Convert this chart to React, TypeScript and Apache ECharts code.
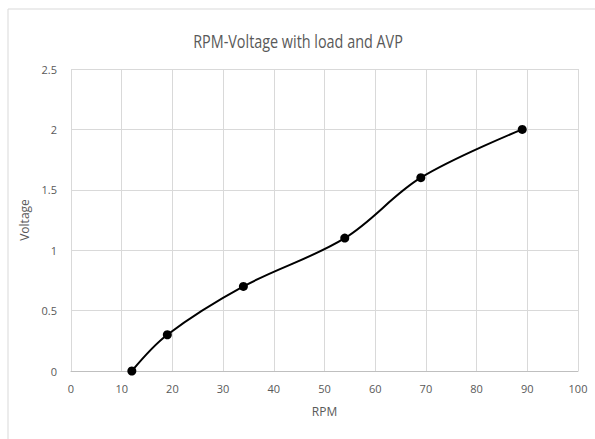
import React, { useEffect, useRef } from "react";
import * as echarts from "echarts";

const rpm = [12, 19, 34, 54, 69, 89];
const voltage = [0, 0.3, 0.7, 1.1, 1.6, 2.0];
const title = "RPM-Voltage with load and AVP";
const xName = "RPM";
const yName = "Voltage";

const FONT = "'Open Sans', sans-serif";

export default function App() {
  const ref = useRef<HTMLDivElement>(null);
  useEffect(() => {
    if (!ref.current) return;
    const chart = echarts.init(ref.current, null, { renderer: "svg" });
    chart.setOption({
      animation: false,
      backgroundColor: "#ffffff",
      graphic: [
        {
          type: "rect",
          shape: { x: 8, y: 9, width: 600, height: 440 },
          style: { fill: "none", stroke: "#d9d9d9", lineWidth: 1 },
          silent: true,
        },
        {
          type: "text",
          x: 298,
          y: 41,
          scaleX: 0.8,
          style: {
            text: title,
            fontFamily: FONT,
            fontSize: 18,
            fill: "#595959",
            align: "center",
            verticalAlign: "middle",
          },
        },
      ],
      grid: { left: 71, right: 17, top: 69, bottom: 68 },
      xAxis: {
        type: "value",
        min: 0,
        max: 100,
        interval: 10,
        name: xName,
        nameLocation: "middle",
        nameGap: 34,
        nameTextStyle: { fontFamily: FONT, fontSize: 12, color: "#595959" },
        axisLine: { show: true, lineStyle: { color: "#bfbfbf" } },
        axisTick: { show: false },
        axisLabel: { fontFamily: FONT, fontSize: 11, color: "#595959", margin: 12 },
        splitLine: { show: true, lineStyle: { color: "#d9d9d9" } },
      },
      yAxis: {
        type: "value",
        min: 0,
        max: 2.5,
        interval: 0.5,
        name: yName,
        nameLocation: "middle",
        nameGap: 32,
        nameTextStyle: { fontFamily: FONT, fontSize: 12, color: "#595959" },
        axisLine: { show: false },
        axisTick: { show: false },
        axisLabel: { fontFamily: FONT, fontSize: 11, color: "#595959", margin: 14 },
        splitLine: { show: true, lineStyle: { color: "#d9d9d9" } },
      },
      series: [
        {
          type: "line",
          data: rpm.map((x, i) => [x, voltage[i]]),
          smooth: 0.35,
          symbol: "circle",
          symbolSize: 9,
          lineStyle: { color: "#000000", width: 2 },
          itemStyle: { color: "#000000" },
        },
      ],
    });
    return () => chart.dispose();
  }, []);
  return (
    <div
      ref={ref}
      style={{ position: "fixed", left: 0, top: 0, width: 595, height: 439 }}
    />
  );
}
